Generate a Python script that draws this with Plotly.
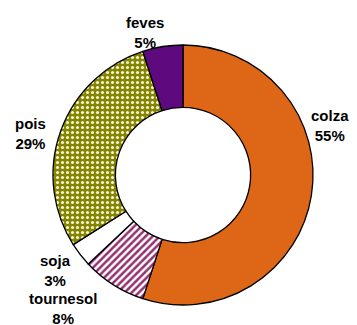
import plotly.graph_objects as go

# ---------------- data ----------------
crops = ["colza", "tournesol", "soja", "pois", "feves"]
shares = [55, 8, 3, 29, 5]

colors = ["#DD6716", "#FFFFFF", "#FFFFFF", "#858500", "#5E0A7E"]
shapes = ["", "/", "", ".", ""]
pattern_fg = ["#DD6716", "#93306E", "#FFFFFF", "#F4F4DC", "#5E0A7E"]

# label positions in pixels (x, y from top)
label_px = [(330, 126), (63, 308), (55, 270), (30, 133), (145, 32)]

W, H = 357, 325
cx, cy, r = 183, 175, 130

fig = go.Figure(
    go.Pie(
        labels=crops,
        values=shares,
        sort=False,
        direction="clockwise",
        rotation=0,
        hole=0.52,
        textinfo="none",
        hoverinfo="label+percent",
        marker=dict(
            colors=colors,
            line=dict(color="black", width=1.3),
            pattern=dict(
                shape=shapes,
                fgcolor=pattern_fg,
                bgcolor=colors,
                fgopacity=1,
                size=[6, 5, 6, 5, 6],
                solidity=[0.3, 0.5, 0.3, 0.3, 0.3],
                fillmode="overlay",
            ),
        ),
        domain=dict(
            x=[(cx - r) / W, (cx + r) / W],
            y=[1 - (cy + r) / H, 1 - (cy - r) / H],
        ),
    )
)

# ---------------- labels ----------------
for name, val, (px_, py_) in zip(crops, shares, label_px):
    fig.add_annotation(
        x=px_ / W,
        y=1 - py_ / H,
        xref="paper",
        yref="paper",
        text=f"<b>{name}<br>{val}%</b>",
        showarrow=False,
        xanchor="center",
        yanchor="middle",
        font=dict(family="Liberation Sans, Arial", size=15, color="black"),
    )

fig.update_layout(
    width=W,
    height=H,
    showlegend=False,
    margin=dict(l=0, r=0, t=0, b=0),
    paper_bgcolor="white",
    plot_bgcolor="white",
)

fig.write_html(
    "out.html",
    config={"displayModeBar": False},
    post_script="document.body.style.margin='0';",
)
